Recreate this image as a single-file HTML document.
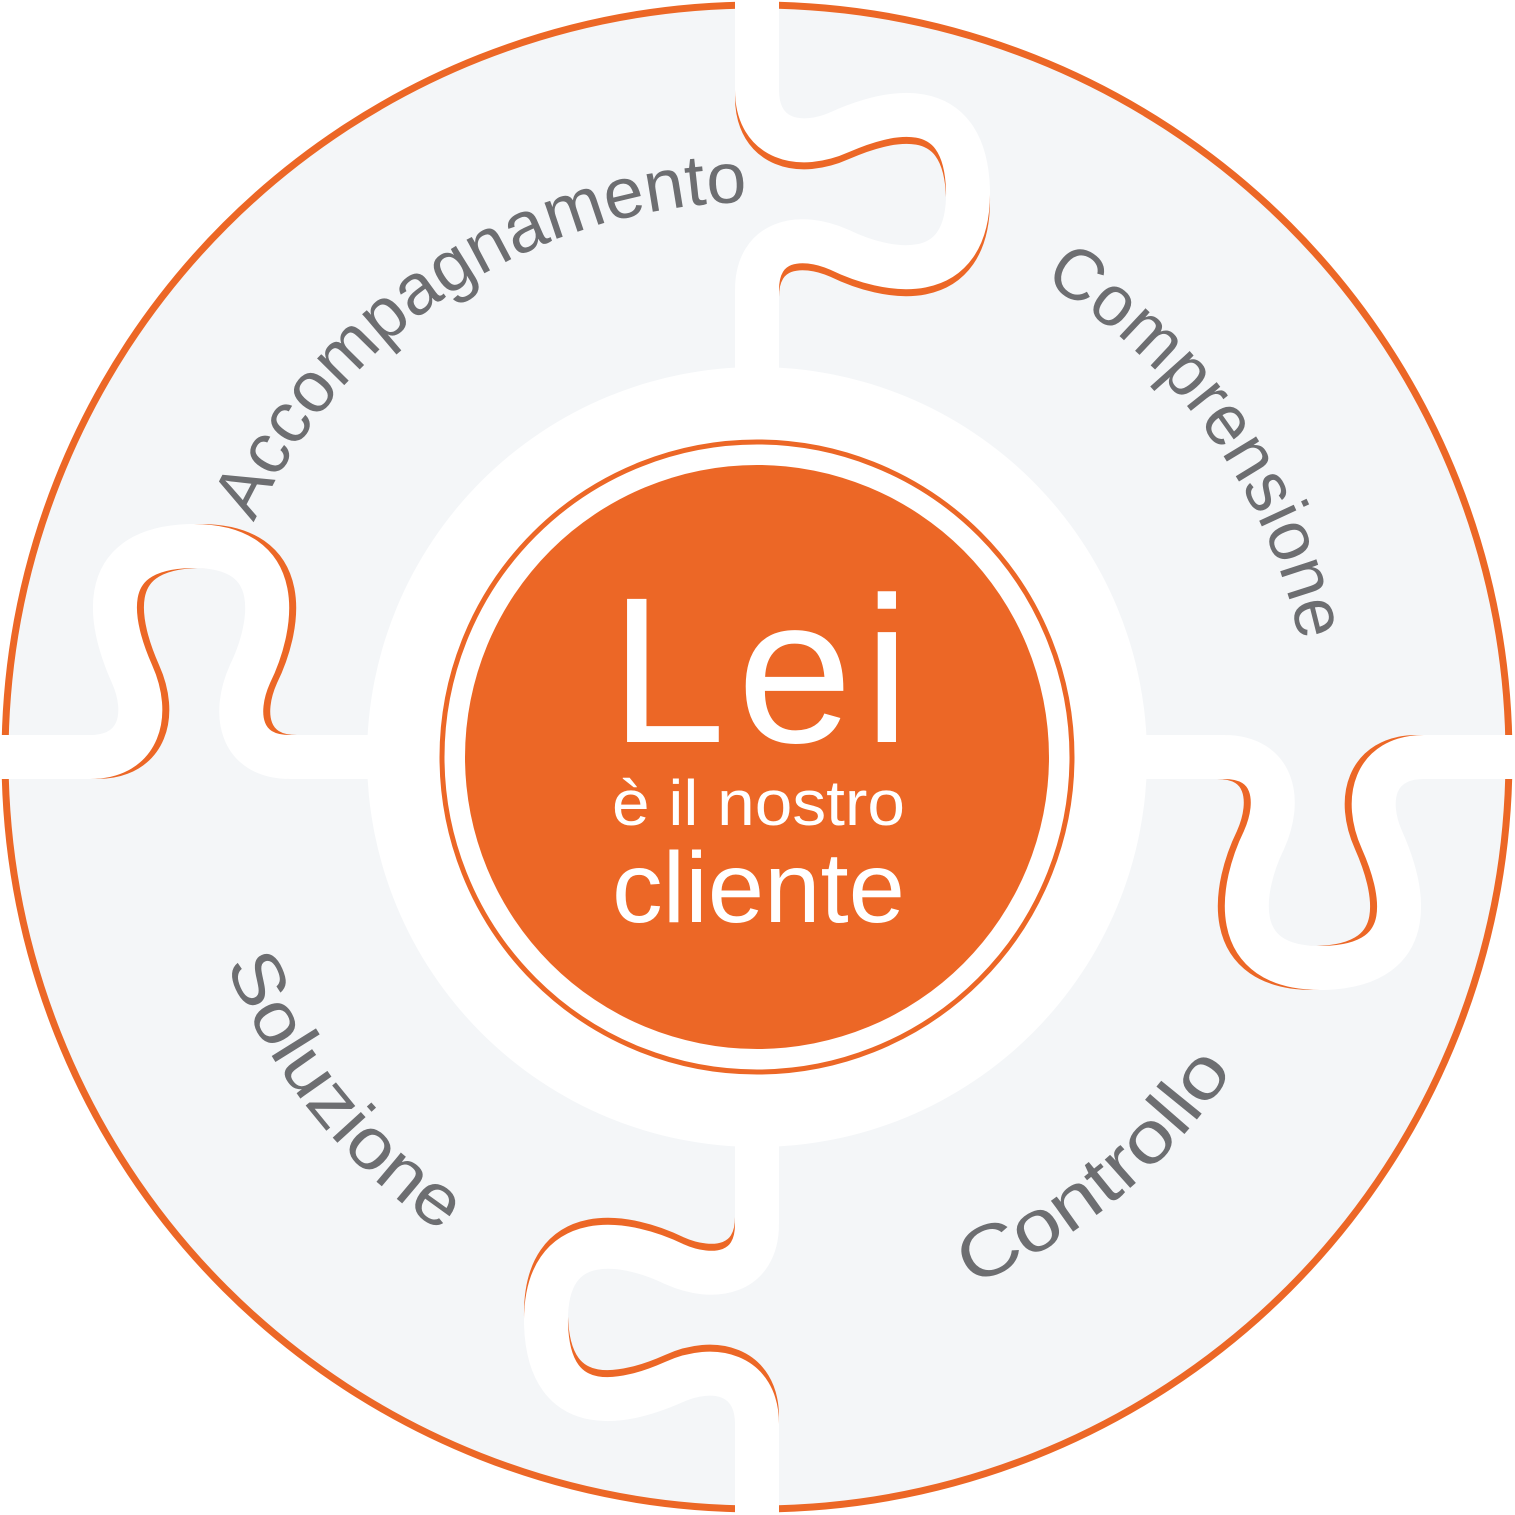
<!DOCTYPE html>
<html><head><meta charset="utf-8"><style>
html,body{margin:0;padding:0;background:#fff;}
svg{display:block;}
</style></head><body>
<svg width="1515" height="1515" viewBox="0 0 1515 1515" xmlns="http://www.w3.org/2000/svg">
<defs>
<path id="cw" d="M202,757 A555,555 0 1,1 1312,757 A555,555 0 1,1 202,757"/>
<path id="ccw" d="M187,757 A570,570 0 1,0 1327,757 A570,570 0 1,0 187,757"/>
<g id="knob">
<path d="M757,-10 L757,90 C757,140 800,150 840,132 C885,112 965,90 968,190 C970,290 885,272 840,250 C800,232 757,240 757,290 L757,380" fill="none" stroke="#ec6726" stroke-width="44" transform="translate(0,7)"/>
<path d="M757,-10 L757,90 C757,140 800,150 840,132 C885,112 965,90 968,190 C970,290 885,272 840,250 C800,232 757,240 757,290 L757,380" fill="none" stroke="#fff" stroke-width="44"/>
</g>
</defs>
<circle cx="757" cy="757" r="752" fill="#f4f6f8" stroke="#ec6726" stroke-width="7"/>
<use href="#knob"/>
<use href="#knob" transform="rotate(90 757 757)"/>
<use href="#knob" transform="rotate(180 757 757)"/>
<use href="#knob" transform="rotate(270 757 757)"/>
<circle cx="757" cy="757" r="390" fill="#fff"/>
<circle cx="757" cy="757" r="315" fill="#fff" stroke="#ec6726" stroke-width="5"/>
<circle cx="757" cy="757" r="292" fill="#ec6726"/>
<g font-family="Liberation Sans, sans-serif" fill="#6d6e71" font-size="72">
<text><textPath href="#cw" startOffset="242" textLength="620" lengthAdjust="spacingAndGlyphs">Accompagnamento</textPath></text>
<text><textPath href="#cw" startOffset="1172" textLength="455" lengthAdjust="spacingAndGlyphs">Comprensione</textPath></text>
<text><textPath href="#ccw" startOffset="212" textLength="350" lengthAdjust="spacingAndGlyphs">Soluzione</textPath></text>
<text><textPath href="#ccw" startOffset="1114" textLength="345" lengthAdjust="spacingAndGlyphs">Controllo</textPath></text>
</g>
<g font-family="Liberation Sans, sans-serif" fill="#fff">
<text x="610" y="742" font-size="208" textLength="300" lengthAdjust="spacing">Lei</text>
<text x="612" y="825" font-size="64" textLength="293" lengthAdjust="spacingAndGlyphs">è il nostro</text>
<text x="612" y="922" font-size="100" textLength="293" lengthAdjust="spacingAndGlyphs">cliente</text>
</g>
</svg>
</body></html>
